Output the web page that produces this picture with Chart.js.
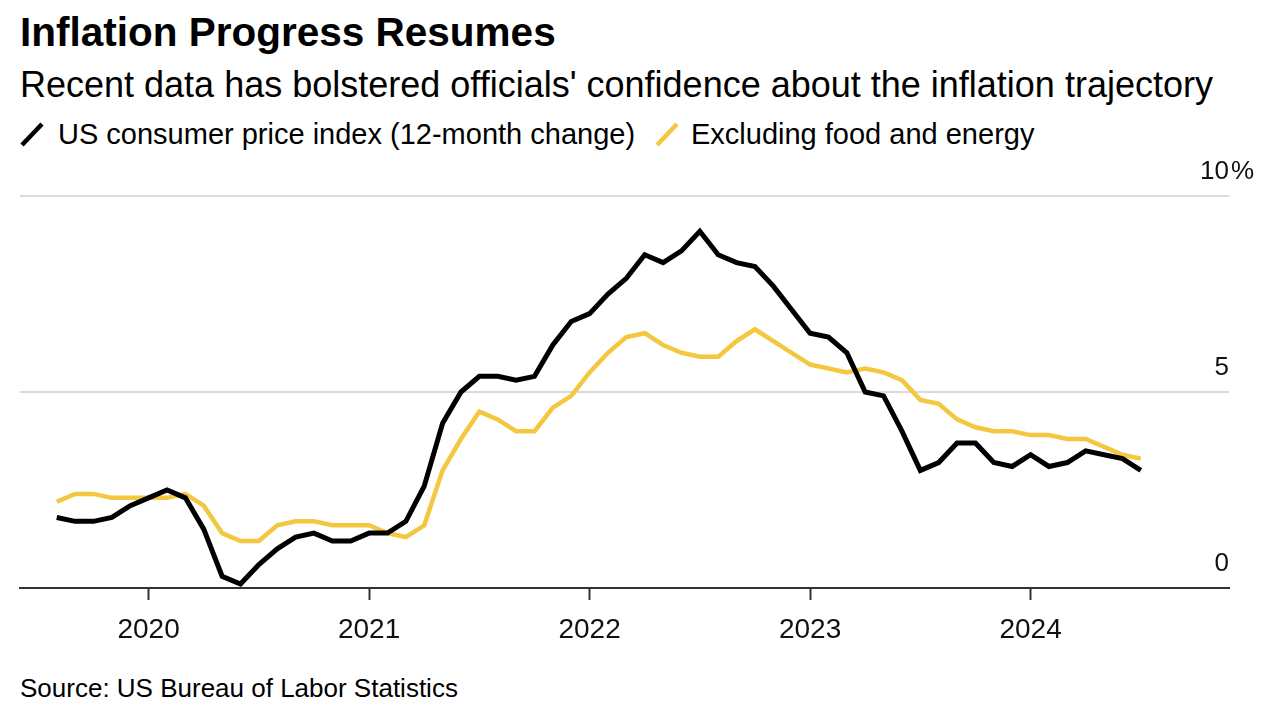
<!DOCTYPE html>
<html>
<head>
<meta charset="utf-8">
<script src="https://cdn.jsdelivr.net/npm/chart.js@4.4.1/dist/chart.umd.min.js"></script>
<style>
  body { margin: 0; background: #fff; font-family: "Liberation Sans", Arial, sans-serif; color: #000; }
  #wrap { position: relative; width: 1268px; height: 712px; overflow: hidden; }
  .txt { position: absolute; line-height: 1; white-space: nowrap; }
  #title { left: 20px; top: 12px; font-size: 40.5px; font-weight: bold; }
  #subtitle { left: 20px; top: 67px; font-size: 36px; }
  .leg { top: 120px; font-size: 29px; }
  .icon { position: absolute; top: 121px; width: 26px; height: 26px; }
  #source { left: 20px; top: 675px; font-size: 26px; }
  canvas { position: absolute; left: 0; top: 0; }
</style>
</head>
<body>
<div id="wrap">
  <div class="txt" id="title">Inflation Progress Resumes</div>
  <div class="txt" id="subtitle">Recent data has bolstered officials' confidence about the inflation trajectory</div>
  <svg class="icon" style="left:19px" viewBox="0 0 26 26"><line x1="3" y1="24" x2="23" y2="3" stroke="#000" stroke-width="4.5"/></svg>
  <div class="txt leg" style="left:58px">US consumer price index (12-month change)</div>
  <svg class="icon" style="left:654px" viewBox="0 0 26 26"><line x1="3" y1="24" x2="23" y2="3" stroke="#f4c740" stroke-width="4.5"/></svg>
  <div class="txt leg" style="left:691px">Excluding food and energy</div>
  <div class="txt" id="source">Source: US Bureau of Labor Statistics</div>
  <canvas id="inflationChart" width="1268" height="712"></canvas>
</div>
<script>
// ---- data (monthly, July 2019 .. June 2024, 12-month % change) ----
const years = ['2020', '2021', '2022', '2023', '2024'];
const yearTicks = [0, 12, 24, 36, 48];   // months since Jan 2020
const yTicks = [0, 5, 10];
const firstMonth = -5;                   // July 2019 reading, plotted at month end

const cpi = [
    1.8, 1.7, 1.7, 1.8, 2.1, 2.3,
    2.5, 2.3, 1.5, 0.3, 0.1, 0.6, 1.0, 1.3, 1.4, 1.2, 1.2, 1.4,
    1.4, 1.7, 2.6, 4.2, 5.0, 5.4, 5.4, 5.3, 5.4, 6.2, 6.8, 7.0,
    7.5, 7.9, 8.5, 8.3, 8.6, 9.1, 8.5, 8.3, 8.2, 7.7, 7.1, 6.5,
    6.4, 6.0, 5.0, 4.9, 4.0, 3.0, 3.2, 3.7, 3.7, 3.2, 3.1, 3.4,
    3.1, 3.2, 3.5, 3.4, 3.3, 3.0
];

const core = [
    2.2, 2.4, 2.4, 2.3, 2.3, 2.3,
    2.3, 2.4, 2.1, 1.4, 1.2, 1.2, 1.6, 1.7, 1.7, 1.6, 1.6, 1.6,
    1.4, 1.3, 1.6, 3.0, 3.8, 4.5, 4.3, 4.0, 4.0, 4.6, 4.9, 5.5,
    6.0, 6.4, 6.5, 6.2, 6.0, 5.9, 5.9, 6.3, 6.6, 6.3, 6.0, 5.7,
    5.6, 5.5, 5.6, 5.5, 5.3, 4.8, 4.7, 4.3, 4.1, 4.0, 4.0, 3.9,
    3.9, 3.8, 3.8, 3.6, 3.4, 3.3
];

const toPoints = arr => arr.map((v, i) => ({ x: firstMonth + i, y: v }));

// y labels sit above their gridlines at the right edge, "%" only on the top one
const yLabelPlugin = {
    id: 'yLabels',
    afterDraw(chart) {
        const ctx = chart.ctx;
        const yScale = chart.scales.y;
        const right = chart.chartArea.right;
        ctx.save();
        ctx.font = '26px "Liberation Sans", Arial, sans-serif';
        ctx.fillStyle = '#111';
        ctx.textBaseline = 'alphabetic';
        yTicks.forEach((v, i) => {
            const y = yScale.getPixelForValue(v) - 17;
            ctx.textAlign = 'right';
            ctx.fillText(String(v), right, y);
            if (i === yTicks.length - 1) {
                ctx.textAlign = 'left';
                ctx.fillText('%', right + 2, y);
            }
        });
        ctx.restore();
    }
};

new Chart(document.getElementById('inflationChart'), {
    type: 'line',
    data: {
        datasets: [{
            label: 'US consumer price index (12-month change)',
            data: toPoints(cpi),
            borderColor: '#000',
            borderWidth: 5,
            pointRadius: 0,
            tension: 0
        }, {
            label: 'Excluding food and energy',
            data: toPoints(core),
            borderColor: '#f4c740',
            borderWidth: 4.5,
            pointRadius: 0,
            tension: 0
        }]
    },
    options: {
        responsive: false,
        animation: false,
        devicePixelRatio: 1,
        layout: { padding: { left: 20, right: 39, top: 196, bottom: 54 } },
        plugins: {
            legend: { display: false },
            tooltip: { enabled: false }
        },
        scales: {
            x: {
                type: 'linear',
                min: -7,
                max: 58.8,
                afterBuildTicks: s => { s.ticks = yearTicks.map(v => ({ value: v })); },
                afterFit: s => { s.height = 70; },
                ticks: {
                    callback: v => years[yearTicks.indexOf(v)],
                    font: { size: 28, family: '"Liberation Sans", Arial, sans-serif' },
                    color: '#111',
                    padding: 13,
                    maxRotation: 0,
                    autoSkip: false
                },
                grid: {
                    drawOnChartArea: false,
                    drawTicks: true,
                    tickLength: 12,
                    tickColor: '#333',
                    tickWidth: 2
                },
                border: { color: '#333', width: 2 }
            },
            y: {
                position: 'right',
                min: 0,
                max: 10,
                afterBuildTicks: s => { s.ticks = yTicks.map(v => ({ value: v })); },
                afterFit: s => { s.width = 0; },
                ticks: { display: false },
                grid: {
                    color: c => c.tick.value === 0 ? 'rgba(0,0,0,0)' : '#dadada',
                    lineWidth: 2,
                    drawTicks: false
                },
                border: { display: false }
            }
        }
    },
    plugins: [yLabelPlugin]
});
</script>
</body>
</html>
